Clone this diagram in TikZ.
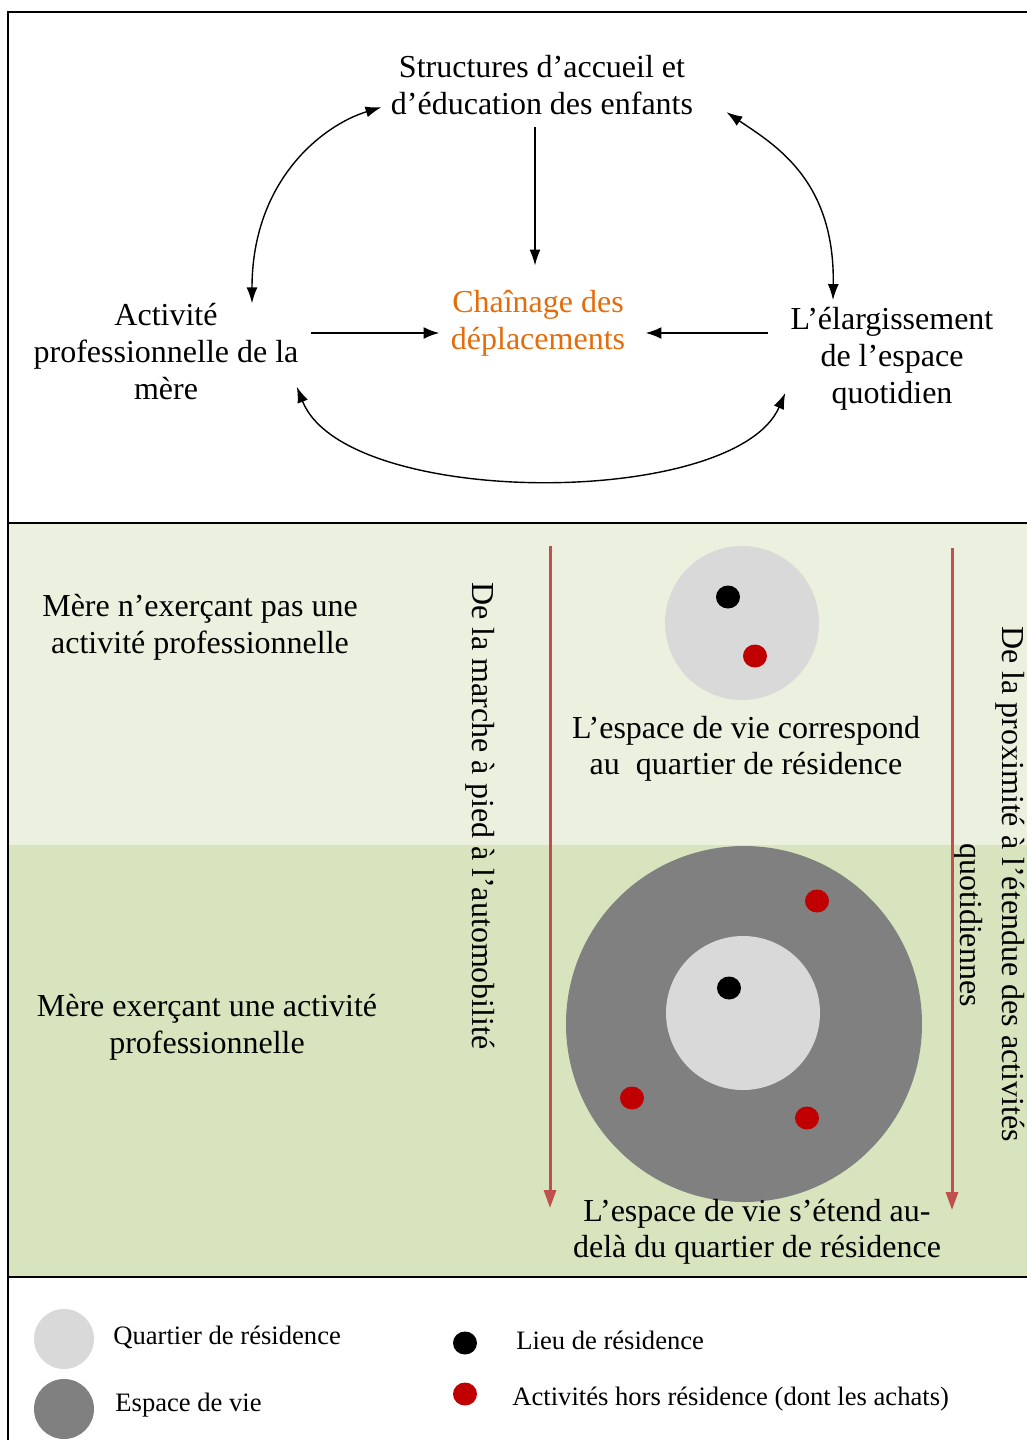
\documentclass[tikz,border=0pt]{standalone}
\usepackage{fontspec}
\setmainfont{Liberation Serif}
\usetikzlibrary{arrows.meta}
\definecolor{lgreen}{HTML}{EBF1DE}
\definecolor{dgreen}{HTML}{D7E4BD}
\definecolor{lgray}{HTML}{D9D9D9}
\definecolor{dgray}{HTML}{808080}
\definecolor{dotred}{HTML}{C00000}
\definecolor{arrred}{HTML}{C0504D}
\definecolor{orangetxt}{HTML}{E46C0A}
\begin{document}
\begin{tikzpicture}[x=0.5pt,y=-0.5pt,
 txt/.style={inner sep=0pt, align=center, font=\fontsize{16}{18.5}\selectfont},
 legtxt/.style={inner sep=0pt, anchor=west, font=\fontsize{13.3}{16}\selectfont},
 arr/.style={-{Latex[length=8pt,width=5.5pt]}, line width=0.75pt},
 harr/.style={-{Latex[length=8pt,width=6pt]}, line width=1.1pt},
 darr/.style={{Latex[length=8pt,width=5.5pt]}-{Latex[length=8pt,width=5.5pt]}, line width=0.7pt},
 redarr/.style={-{Triangle[length=9pt,width=6pt]}, line width=1.5pt, arrred},
 reddot/.style={dotred},
 blackdot/.style={black},
]
\useasboundingbox (0,0) rectangle (1027,1440);
% bands
\fill[lgreen] (8,523) rectangle (1027,845);
\fill[dgreen] (8,845) rectangle (1027,1277);
\draw[line width=1pt] (8,1440) -- (8,12) -- (1027,12);
\draw[line width=1pt] (8,523) -- (1027,523);
\draw[line width=1pt] (8,1277) -- (1027,1277);

% top diagram
\node[txt] (struct) at (542,85) {Structures d’accueil et\\d’éducation des enfants};
\node[txt, text=orangetxt] (chain) at (538,323) {Chaînage des\\déplacements};
\node[txt] (act) at (166,352) {Activité\\professionnelle de la\\mère};
\node[txt] (elarg) at (892,359) {L’élargissement\\de l’espace\\quotidien};

\draw[arr] ([shift={(-7,12)}]struct.south) -- ([shift={(-3,-24)}]chain.north);
\draw[harr] ([shift={(12,-19)}]act.east) -- ([shift={(-11,10)}]chain.west);
\draw[harr] ([shift={(-22,-26)}]elarg.west) -- ([shift={(20,10)}]chain.east);

\draw[darr] ([shift={(86,0)}]act.north) .. controls (252,180) and (323,125) .. ([shift={(-9,-8)}]struct.south west);
\draw[darr] ([shift={(-59,-7)}]elarg.north) .. controls (835,180) and (775,145) .. ([shift={(33,-3)}]struct.south east);
\draw[darr] ([shift={(-2,-14)}]act.south east) .. controls (345,509) and (735,509) .. ([shift={(-5,-18)}]elarg.south west);

% middle section
\node[txt] (sans) at (200,627) {Mère n’exerçant pas une\\activité professionnelle};
\node[txt] (avec) at (207,1027) {Mère exerçant une activité\\professionnelle};
\node[txt, rotate=-90] (marche) at (480,816) {De la marche à pied à l’automobilité};
\node[txt, rotate=-90, font=\fontsize{16}{21}\selectfont] (prox) at (989,884) {De la proximité à l’étendue des activités\\\hspace*{41pt}quotidiennes};

\coordinate (r1a) at (550,546);
\coordinate (r1b) at (550,1208);
\coordinate (r2a) at (952,548);
\coordinate (r2b) at (952,1210);
\draw[redarr] (r1a) -- (r1b);
\draw[redarr] (r2a) -- (r2b);

% small life space
\fill[lgray] (742,623) circle[radius=77];
\fill[blackdot] (728,597) circle[x radius=12,y radius=11.5];
\fill[reddot] (755,656) circle[x radius=12,y radius=11.5];
\node[txt, font=\fontsize{16}{18}\selectfont] (corresp) at (746,749) {L’espace de vie correspond\\au~ quartier de résidence};

% large life space
\fill[dgray] (744,1024) circle[radius=178];
\fill[lgray] (743,1013) circle[radius=77];
\fill[blackdot] (729,988) circle[x radius=12,y radius=11.5];
\fill[reddot] (817,901) circle[x radius=12,y radius=11.5];
\fill[reddot] (632,1098) circle[x radius=12,y radius=11.5];
\fill[reddot] (807,1118) circle[x radius=12,y radius=11.5];
\node[txt, font=\fontsize{16}{18}\selectfont] (etend) at (757,1232) {L’espace de vie s’étend au-\\delà du quartier de résidence};

% legend
\fill[lgray] (64,1339) circle[radius=30];
\fill[dgray] (64,1409) circle[radius=30];
\fill[blackdot] (465,1343) circle[x radius=12,y radius=11.5];
\fill[reddot] (465,1394) circle[x radius=12,y radius=11.5];
\node[legtxt] (lq) at (113,1337) {Quartier de résidence};
\node[legtxt] (le) at (115,1405) {Espace de vie};
\node[legtxt] (ll) at (516,1340) {Lieu de résidence};
\node[legtxt] (la) at (512,1399) {Activités hors résidence (dont les achats)};
\end{tikzpicture}
\end{document}
